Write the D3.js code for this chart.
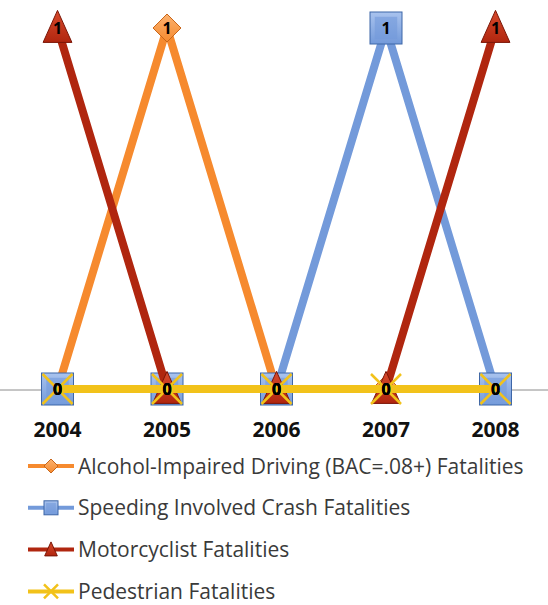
<!DOCTYPE html>
<html>
<head>
<script src="https://cdn.jsdelivr.net/npm/d3@7"></script>
  <style type="text/css">
    body {
      margin: 0;
      background: #fff;
      font-family: 'Open Sans', sans-serif;
    }
  </style>
</head>
<body>
  <script type="text/javascript">

  // data
  var years = ["2004", "2005", "2006", "2007", "2008"];
  var alcohol = [0, 1, 0, 0, 0];
  var speeding = [0, 0, 0, 1, 0];
  var motorcycle = [1, 0, 0, 0, 1];
  var pedestrian = [0, 0, 0, 0, 0];
  var seriesNames = [
    "Alcohol-Impaired Driving (BAC=.08+) Fatalities",
    "Speeding Involved Crash Fatalities",
    "Motorcyclist Fatalities",
    "Pedestrian Fatalities"
  ];

  var width = 548, height = 605;

  var series = [
    {name: seriesNames[0], values: alcohol, color: "#f68a2e", dark: "#c8661a", light: "#fbb270", marker: "diamond"},
    {name: seriesNames[1], values: speeding, color: "#739ada", dark: "#3d66a8", light: "#a9c3ee", marker: "square"},
    {name: seriesNames[2], values: motorcycle, color: "#b0260f", dark: "#7a1506", light: "#d84a2c", marker: "triangle"},
    {name: seriesNames[3], values: pedestrian, color: "#f2c21a", dark: "#d9a800", light: "#f8dc6a", marker: "cross"}
  ];

  var svg = d3.select("body").append("svg")
      .attr("width", width)
      .attr("height", height);

  var x = d3.scalePoint().domain(years).range([57.5, 495.5]);
  var y = d3.scaleLinear().domain([0, 1]).range([389, 28]);

  // gradients for the bevelled markers
  var defs = svg.append("defs");
  series.forEach(function(s, i) {
    var g = defs.append("linearGradient").attr("id", "grad" + i)
        .attr("x1", 0).attr("y1", 0).attr("x2", 0).attr("y2", 1);
    g.append("stop").attr("offset", "0%").attr("stop-color", s.light);
    g.append("stop").attr("offset", "100%").attr("stop-color", s.color);
  });

  // horizontal axis line
  svg.append("line")
      .attr("x1", 0).attr("x2", width)
      .attr("y1", y(0) + 1).attr("y2", y(0) + 1)
      .attr("stroke", "#8c8c8c").attr("stroke-width", 1);

  var line = d3.line()
      .x(function(d, i) { return x(years[i]); })
      .y(function(d) { return y(d); });

  function drawMarker(g, type, size, s, i) {
    var h = size / 2;
    if (type == "diamond") {
      g.append("path")
        .attr("d", "M0," + (-h) + "L" + h + ",0L0," + h + "L" + (-h) + ",0Z")
        .attr("fill", "url(#grad" + i + ")").attr("stroke", s.dark).attr("stroke-width", 1);
    } else if (type == "square") {
      g.append("rect")
        .attr("x", -h).attr("y", -h).attr("width", size).attr("height", size)
        .attr("fill", "url(#grad" + i + ")").attr("stroke", s.dark).attr("stroke-width", 1);
      g.append("rect")
        .attr("x", -h + size * 0.15).attr("y", -h + size * 0.15)
        .attr("width", size * 0.7).attr("height", size * 0.7)
        .attr("fill", s.color).attr("opacity", 0.6);
    } else if (type == "triangle") {
      g.append("path")
        .attr("d", "M0," + (-h * 1.1) + "L" + (h * 0.9) + "," + (h * 0.9) + "L" + (-h * 0.9) + "," + (h * 0.9) + "Z")
        .attr("fill", "url(#grad" + i + ")").attr("stroke", s.dark).attr("stroke-width", 1);
    } else if (type == "cross") {
      g.append("path")
        .attr("d", "M" + (-h) + "," + (-h) + "L" + h + "," + h + "M" + h + "," + (-h) + "L" + (-h) + "," + h)
        .attr("stroke", s.color).attr("stroke-width", 2.5).attr("fill", "none");
    }
  }

  var sizes = {diamond: 28, square: 32, triangle: 32, cross: 30};

  // lines and markers, series by series
  series.forEach(function(s, i) {
    svg.append("path")
        .datum(s.values)
        .attr("d", line)
        .attr("fill", "none")
        .attr("stroke", s.color)
        .attr("stroke-width", 8)
        .attr("stroke-linejoin", "round");

    svg.selectAll(".m" + i)
        .data(s.values)
        .enter()
        .append("g").attr("class", "m" + i)
        .attr("transform", function(d, j) { return "translate(" + x(years[j]) + "," + y(d) + ")"; })
        .each(function(d) { drawMarker(d3.select(this), s.marker, sizes[s.marker], s, i); });
  });

  // data labels
  series.forEach(function(s, i) {
    svg.selectAll(".lab" + i)
        .data(s.values)
        .enter()
        .append("text")
        .attr("x", function(d, j) { return x(years[j]); })
        .attr("y", function(d) { return y(d) + 6; })
        .attr("text-anchor", "middle")
        .attr("font-size", 16)
        .attr("font-weight", "bold")
        .attr("fill", "#000")
        .text(function(d) { return d; });
  });

  // year labels
  svg.selectAll(".year")
      .data(years)
      .enter()
      .append("text")
      .attr("class", "year")
      .attr("x", function(d) { return x(d); })
      .attr("y", 437)
      .attr("text-anchor", "middle")
      .attr("font-size", 21)
      .attr("font-weight", "bold")
      .attr("fill", "#111")
      .text(function(d) { return d; });

  // legend
  var legend = svg.selectAll(".legend")
      .data(series)
      .enter()
      .append("g").attr("class", "legend")
      .attr("transform", function(d, i) { return "translate(0," + (466 + i * 41.8) + ")"; });

  legend.append("line")
      .attr("x1", 28).attr("x2", 74).attr("y1", 0).attr("y2", 0)
      .attr("stroke", function(d) { return d.color; })
      .attr("stroke-width", 4);

  legend.each(function(d, i) {
    var g = d3.select(this).append("g").attr("transform", "translate(51,0)");
    drawMarker(g, d.marker, 14, d, i);
  });

  legend.append("text")
      .attr("x", 78)
      .attr("y", 7.5)
      .attr("font-size", 21)
      .attr("fill", "#3a3a3a")
      .text(function(d) { return d.name; });

  </script>
</body>
</html>
